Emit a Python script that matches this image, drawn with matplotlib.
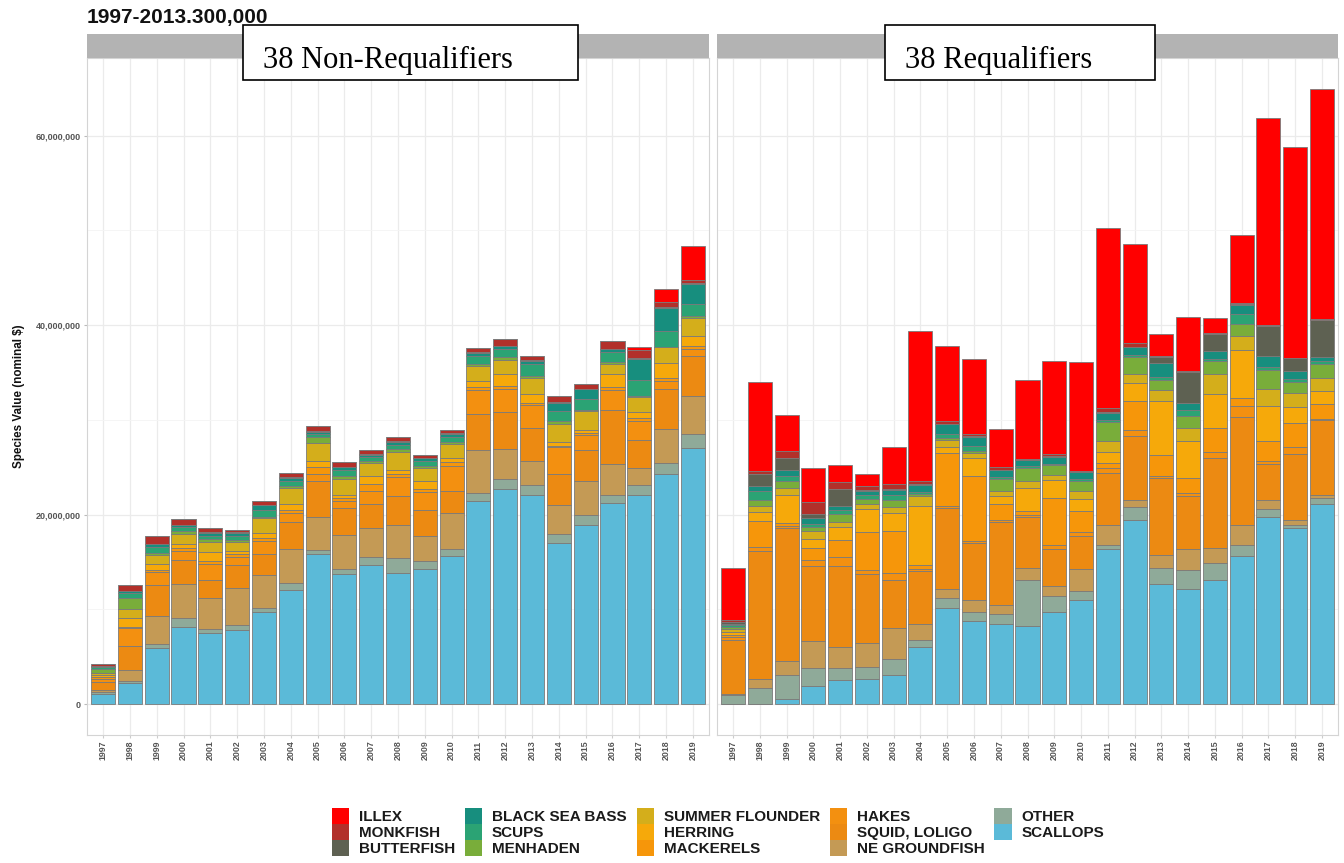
import numpy as np
import matplotlib
matplotlib.use("Agg")
import matplotlib.pyplot as plt
from matplotlib.patches import Rectangle, Patch
from matplotlib.ticker import FuncFormatter, MultipleLocator

plt.rcParams['font.family'] = ['Liberation Sans', 'DejaVu Sans']

years = [str(y) for y in range(1997, 2020)]

species = ["SCALLOPS", "OTHER", "NE GROUNDFISH", "SQUID, LOLIGO", "HAKES",
           "MACKERELS", "HERRING", "SUMMER FLOUNDER", "MENHADEN", "SCUPS",
           "BLACK SEA BASS", "BUTTERFISH", "MONKFISH", "ILLEX"]

colors = ["#5BBAD8", "#8FAA99", "#C49A55", "#EC8A12", "#F39010",
          "#F6960A", "#F6A90A", "#D4AE1B", "#79AD3A", "#2BA374",
          "#178E7E", "#5E6152", "#B2302A", "#FF0000"]

legend_order = ["ILLEX", "MONKFISH", "BUTTERFISH", "BLACK SEA BASS", "SCUPS",
                "MENHADEN", "SUMMER FLOUNDER", "HERRING", "MACKERELS", "HAKES",
                "SQUID, LOLIGO", "NE GROUNDFISH", "OTHER", "SCALLOPS"]

# Values in millions of dollars, one row per year (1997..2019),
# columns follow the `species` order (bottom of stack first).
non_requalifiers = [
    [1.1, 0.2, 0.2, 0.8, 0.4, 0.2, 0.2, 0.2, 0.4, 0.2, 0.1, 0.05, 0.15, 0],
    [2.2, 0.25, 1.15, 2.5, 1.9, 0.2, 0.9, 1.0, 1.1, 0.5, 0.2, 0.1, 0.6, 0],
    [5.9, 0.45, 2.95, 3.3, 1.4, 0.2, 0.6, 0.9, 0.3, 0.6, 0.3, 0.05, 0.85, 0],
    [8.2, 0.9, 3.6, 2.5, 1.0, 0.3, 0.4, 1.1, 0.3, 0.4, 0.2, 0.05, 0.55, 0],
    [7.5, 0.4, 3.3, 1.9, 1.7, 0.3, 1.0, 1.0, 0.3, 0.4, 0.3, 0.05, 0.4, 0],
    [7.8, 0.6, 3.9, 2.4, 0.8, 0.3, 0.4, 0.9, 0.2, 0.5, 0.3, 0.05, 0.2, 0],
    [9.75, 0.45, 3.4, 2.3, 1.3, 0.3, 0.6, 1.5, 0.2, 0.7, 0.5, 0.05, 0.35, 0],
    [12.1, 0.7, 3.6, 2.8, 1.0, 0.3, 0.6, 1.7, 0.2, 0.6, 0.3, 0.05, 0.4, 0],
    [15.8, 0.45, 3.55, 3.75, 0.7, 0.8, 0.6, 1.9, 0.6, 0.4, 0.2, 0.05, 0.55, 0],
    [13.7, 0.6, 3.6, 2.8, 0.7, 0.4, 0.3, 1.7, 0.3, 0.6, 0.3, 0.05, 0.5, 0],
    [14.7, 0.8, 3.1, 2.55, 1.4, 0.7, 0.8, 1.4, 0.2, 0.4, 0.3, 0.05, 0.4, 0],
    [13.8, 1.6, 3.5, 3.1, 2.0, 0.3, 0.4, 1.9, 0.3, 0.5, 0.3, 0.05, 0.4, 0],
    [14.25, 0.85, 2.65, 2.7, 1.9, 0.4, 0.8, 1.4, 0.2, 0.5, 0.3, 0.05, 0.3, 0],
    [15.65, 0.75, 3.8, 2.25, 2.7, 0.4, 0.4, 1.5, 0.2, 0.5, 0.4, 0.05, 0.3, 0],
    [21.4, 0.9, 4.5, 3.8, 2.6, 0.3, 0.6, 1.6, 0.2, 0.8, 0.4, 0.05, 0.4, 0],
    [22.7, 1.1, 3.15, 3.9, 2.4, 0.3, 1.25, 1.5, 0.3, 0.9, 0.3, 0.05, 0.7, 0],
    [22.1, 1.05, 2.55, 3.5, 2.4, 0.2, 0.95, 1.65, 0.25, 1.3, 0.3, 0.05, 0.5, 0],
    [17.05, 0.95, 3.0, 3.3, 2.8, 0.2, 0.35, 1.9, 0.3, 1.1, 0.85, 0.05, 0.65, 0],
    [18.95, 1.05, 3.6, 3.25, 1.6, 0.2, 0.3, 1.95, 0.2, 1.1, 1.05, 0.05, 0.5, 0],
    [21.25, 0.85, 3.25, 5.7, 2.1, 0.3, 1.35, 1.15, 0.2, 1.0, 0.3, 0.05, 0.85, 0],
    [22.1, 1.0, 1.8, 3.0, 2.0, 0.3, 0.6, 1.65, 0.1, 1.7, 2.2, 0.1, 0.85, 0.35],
    [24.3, 1.15, 3.6, 4.2, 0.9, 0.3, 1.6, 1.6, 0.1, 1.65, 2.4, 0.1, 0.5, 1.4],
    [27.0, 1.5, 4.0, 4.2, 0.8, 0.3, 1.1, 1.85, 0.2, 1.3, 2.1, 0.1, 0.35, 3.6],
]

requalifiers = [
    [0.0, 1.0, 0.1, 5.7, 0.3, 0.2, 0.3, 0.3, 0.3, 0.2, 0.1, 0.2, 0.2, 5.5],
    [0.0, 1.7, 1.0, 13.5, 0.4, 2.7, 1.0, 0.6, 0.6, 1.0, 0.5, 1.25, 0.4, 9.4],
    [0.6, 2.5, 1.45, 14.0, 0.3, 0.3, 2.9, 0.8, 0.75, 0.5, 0.6, 1.25, 0.8, 3.75],
    [1.9, 1.9, 2.9, 7.9, 0.6, 1.25, 1.0, 0.8, 0.4, 0.4, 0.6, 0.4, 1.25, 3.6],
    [2.6, 1.25, 2.2, 8.5, 1.0, 1.8, 1.3, 0.6, 0.8, 0.4, 0.5, 1.8, 0.7, 1.8],
    [2.7, 1.25, 2.5, 7.3, 0.4, 4.0, 2.4, 0.55, 0.6, 0.4, 0.4, 0.1, 0.4, 1.3],
    [3.1, 1.7, 3.2, 5.1, 0.8, 4.4, 1.9, 0.6, 0.75, 0.5, 0.6, 0.05, 0.5, 3.9],
    [6.0, 0.8, 1.7, 5.6, 0.2, 0.4, 6.25, 1.0, 0.2, 0.2, 0.8, 0.05, 0.4, 15.8],
    [10.2, 1.0, 1.0, 8.5, 0.2, 5.6, 0.6, 0.75, 0.2, 0.5, 1.0, 0.05, 0.3, 7.9],
    [8.75, 1.0, 1.25, 6.0, 0.2, 6.9, 1.9, 0.55, 0.2, 0.5, 1.0, 0.05, 0.2, 7.9],
    [8.5, 1.0, 1.0, 8.75, 0.2, 1.7, 0.8, 0.6, 1.25, 0.2, 0.7, 0.05, 0.3, 4.0],
    [8.3, 4.8, 1.25, 5.4, 0.2, 0.4, 2.5, 0.7, 1.4, 0.2, 0.6, 0.05, 0.1, 8.3],
    [9.7, 1.7, 1.1, 3.9, 0.4, 5.0, 1.9, 0.5, 1.0, 0.2, 0.7, 0.05, 0.25, 9.8],
    [11.0, 0.9, 2.4, 3.4, 0.5, 2.2, 1.3, 0.8, 1.1, 0.2, 0.7, 0.05, 0.1, 11.5],
    [16.4, 0.4, 2.15, 5.5, 0.5, 0.5, 1.2, 1.1, 2.0, 0.2, 0.8, 0.05, 0.5, 19.0],
    [19.4, 1.4, 0.8, 6.7, 0.65, 3.0, 1.9, 1.0, 1.8, 0.2, 0.85, 0.05, 0.35, 10.5],
    [12.7, 1.7, 1.3, 8.2, 0.2, 2.15, 5.8, 1.15, 1.0, 0.3, 1.5, 0.65, 0.1, 2.3],
    [12.15, 2.05, 2.15, 5.6, 0.35, 1.6, 3.9, 1.3, 1.3, 0.7, 0.7, 3.3, 0.1, 5.7],
    [13.15, 1.7, 1.6, 9.5, 0.7, 2.45, 3.65, 2.05, 1.45, 0.2, 0.8, 1.85, 0.1, 1.6],
    [15.6, 1.2, 2.15, 11.4, 1.1, 0.85, 5.1, 1.45, 1.3, 1.0, 1.0, 0.1, 0.1, 7.2],
    [19.8, 0.85, 0.9, 3.85, 0.3, 2.1, 3.7, 1.8, 2.0, 0.3, 1.1, 3.25, 0.05, 21.85],
    [18.6, 0.35, 0.5, 7.0, 0.65, 2.6, 1.7, 1.4, 1.2, 0.3, 0.9, 1.3, 0.05, 22.3],
    [21.1, 0.65, 0.3, 7.9, 0.2, 1.5, 1.4, 1.4, 1.5, 0.3, 0.35, 4.0, 0.05, 24.3],
]

panel_titles = ["38 Non-Requalifiers", "38 Requalifiers"]

W, H = 1344, 863
fig = plt.figure(figsize=(W / 100, H / 100), dpi=100)


def fx(px):
    return px / W


def fy(py):
    return 1 - py / H


panel_top, panel_bot = 58, 735
panels = [(87, 709), (717, 1338)]
axes = []
for (x0, x1) in panels:
    ax = fig.add_axes([fx(x0), fy(panel_bot), fx(x1 - x0), (panel_bot - panel_top) / H])
    axes.append(ax)

x = np.arange(len(years))
for ax, table in zip(axes, [non_requalifiers, requalifiers]):
    vals = np.array(table) * 1e6
    bottom = np.zeros(len(years))
    for j, (name, col) in enumerate(zip(species, colors)):
        ax.bar(x, vals[:, j], bottom=bottom, width=0.9, color=col,
               edgecolor="#7A7A7A", linewidth=0.6, zorder=3)
        bottom += vals[:, j]
    ax.set_xlim(-0.6, len(years) - 0.4)
    ax.set_ylim(-3.25e6, 68.2e6)
    ax.set_facecolor("white")
    ax.yaxis.set_major_locator(MultipleLocator(20e6))
    ax.yaxis.set_minor_locator(MultipleLocator(10e6))
    ax.grid(which="major", color="#EBEBEB", linewidth=0.9, zorder=0)
    ax.grid(which="minor", axis="y", color="#F4F4F4", linewidth=0.6, zorder=0)
    ax.set_xticks(x)
    ax.set_xticklabels(years, rotation=90, fontsize=6.4, fontweight="bold",
                       color="#555555")
    ax.tick_params(axis="x", length=2, color="#CCCCCC", pad=2)
    ax.tick_params(axis="y", which="major", length=2.5, color="#BBBBBB",
                   labelsize=6.5, labelcolor="#555555", pad=2)
    ax.tick_params(axis="y", which="minor", length=0)
    for sp in ax.spines.values():
        sp.set_color("#D4D4D4")
        sp.set_linewidth(0.8)
    ax.set_axisbelow(True)

axes[0].yaxis.set_major_formatter(FuncFormatter(lambda v, p: f"{int(round(v)):,}"))
for lbl in axes[0].get_yticklabels():
    lbl.set_fontweight("bold")
axes[1].tick_params(axis="y", labelleft=False, length=0)
axes[0].set_ylabel("Species Value (nominal $)", fontsize=8.4, fontweight="bold",
                   color="#111111", labelpad=8)

# facet strips
for (x0, x1) in panels:
    fig.patches.append(Rectangle((fx(x0), fy(58)), fx(x1 - x0), (58 - 34) / H,
                                 transform=fig.transFigure, facecolor="#B3B3B3",
                                 edgecolor="none", zorder=1))

# panel name boxes
boxes = [(243, 578, 263), (885, 1155, 905)]
for (bx0, bx1, tx), title in zip(boxes, panel_titles):
    fig.patches.append(Rectangle((fx(bx0), fy(80)), fx(bx1 - bx0), 55 / H,
                                 transform=fig.transFigure, facecolor="white",
                                 edgecolor="black", linewidth=1.2, zorder=5))
    fig.text(fx(tx), fy(60), title, family="Liberation Serif", fontsize=22,
             ha="left", va="center", color="black", zorder=6)

fig.text(fx(87), fy(17), "1997-2013.300,000", fontsize=15, fontweight="bold",
         ha="left", va="center", color="#111111")

handles = [Patch(facecolor=colors[species.index(n)], edgecolor="none", label=n)
           for n in legend_order]
leg = fig.legend(handles=handles, ncol=5, loc="center",
                 bbox_to_anchor=(fx(718), fy(832)), frameon=False,
                 handlelength=1.12, handleheight=1.2, handletextpad=0.65,
                 columnspacing=0.65, labelspacing=0.0, borderpad=0.2,
                 prop={"weight": "bold", "size": 11})
for t in leg.get_texts():
    t.set_color("#1A1A1A")

fig.savefig("out.png", dpi=100, facecolor="white")
